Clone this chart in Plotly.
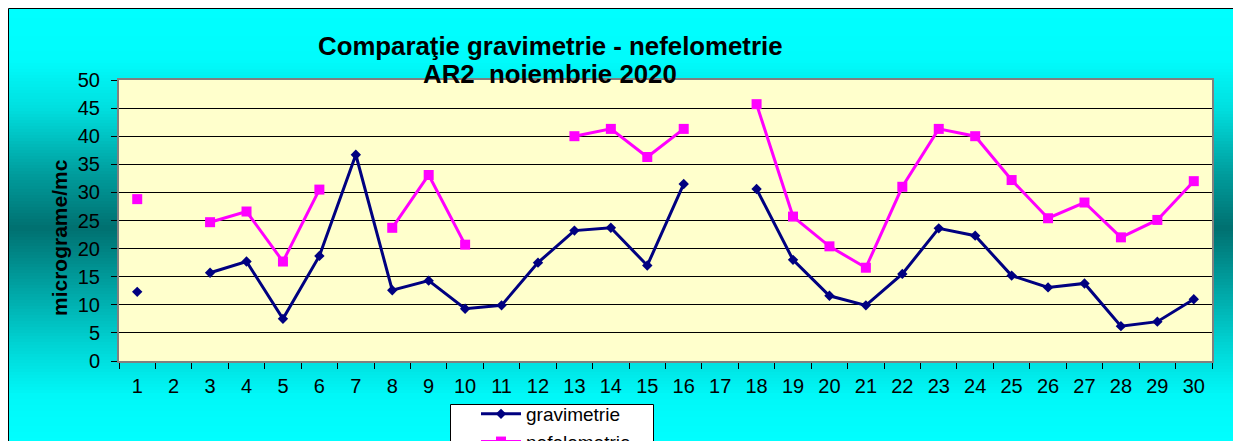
import plotly.graph_objects as go

# ---- data ----
days = [str(d) for d in range(1, 31)]
gravimetrie = [12.3, None, 15.7, 17.7, 7.5, 18.7, 36.7, 12.6, 14.3, 9.3,
               9.9, 17.5, 23.2, 23.7, 17.0, 31.5, None, 30.6, 18.0, 11.6,
               9.9, 15.5, 23.6, 22.3, 15.2, 13.1, 13.8, 6.2, 7.0, 11.0]
nefelometrie = [28.8, None, 24.7, 26.6, 17.7, 30.5, None, 23.7, 33.1, 20.7,
                None, None, 40.0, 41.3, 36.3, 41.3, None, 45.7, 25.7, 20.4,
                16.6, 31.0, 41.3, 40.0, 32.2, 25.4, 28.2, 22.0, 25.1, 32.0]
y_ticks = [0, 5, 10, 15, 20, 25, 30, 35, 40, 45, 50]
title_line1 = "Comparaţie gravimetrie - nefelometrie"
title_line2 = "AR2\u00a0 noiembrie 2020"
y_title = "micrograme/mc"

# ---- geometry (screen pixels; page body adds an 8px offset) ----
OFF = 8
W, H = 1241, 441
PL, PT, PW, PH = 119, 80, 1093, 281          # plot area on screen
L = PL - OFF
T = PT - OFF
R = W - L - PW
B = H - T - PH


def sx(p):
    return (p - PL) / PW


def sy(p):
    return (PT + PH - p) / PH


# vertical gradient of the chart area (screen y, green/blue channel)
grad_stops = [(9, 255), (60, 252), (110, 222), (170, 160), (228, 112),
              (290, 165), (345, 212), (395, 248), (441, 255)]


def grad_val(y):
    for (y0, v0), (y1, v1) in zip(grad_stops[:-1], grad_stops[1:]):
        if y0 <= y <= y1:
            return v0 + (v1 - v0) * (y - y0) / (y1 - y0)
    return grad_stops[-1][1]


shapes = []
step = 3
y = 9
while y < H + OFF:
    v = int(round(grad_val(y + step / 2)))
    shapes.append(dict(type="rect", xref="paper", yref="paper",
                       x0=sx(9), x1=sx(W + OFF + 2), y0=sy(y + step + 0.5), y1=sy(y),
                       line=dict(width=0), fillcolor=f"rgb(0,{v},{v})", layer="below"))
    y += step
# chart area border
shapes.append(dict(type="rect", xref="paper", yref="paper",
                   x0=sx(8.5), x1=sx(W + OFF + 5), y0=sy(H + OFF + 5), y1=sy(8.5),
                   line=dict(width=1, color="black"), fillcolor="rgba(0,0,0,0)", layer="below"))
# plot area
shapes.append(dict(type="rect", xref="x domain", yref="y domain", x0=0, x1=1, y0=0, y1=1,
                   line=dict(width=0), fillcolor="#FFFFCC", layer="below"))
# legend box
shapes.append(dict(type="rect", xref="paper", yref="paper",
                   x0=sx(450.5), x1=sx(653.5), y0=sy(H + OFF + 20), y1=sy(404.5),
                   line=dict(width=1, color="black"), fillcolor="white", layer="below"))

fig = go.Figure()
fig.add_trace(go.Scatter(x=days, y=gravimetrie, name="gravimetrie", mode="lines+markers",
                         line=dict(color="#000080", width=3),
                         marker=dict(symbol="diamond", size=8, color="#000080"),
                         connectgaps=False))
fig.add_trace(go.Scatter(x=days, y=nefelometrie, name="nefelometrie", mode="lines+markers",
                         line=dict(color="#FF00FF", width=3),
                         marker=dict(symbol="square", size=10, color="#FF00FF"),
                         connectgaps=False))

font_family = "Liberation Sans, Arial, sans-serif"

annotations = [
    dict(text=f"<b>{title_line1}</b>", xref="paper", yref="paper", x=sx(550), y=sy(46),
         xanchor="center", yanchor="middle", showarrow=False,
         font=dict(family=font_family, size=25.8, color="black")),
    dict(text=f"<b>{title_line2}</b>", xref="paper", yref="paper", x=sx(550), y=sy(74),
         xanchor="center", yanchor="middle", showarrow=False,
         font=dict(family=font_family, size=25.8, color="black")),
    dict(text=f"<b>{y_title}</b>", xref="paper", yref="paper", x=sx(59), y=sy(238),
         xanchor="center", yanchor="middle", showarrow=False, textangle=-90,
         font=dict(family=font_family, size=21, color="black")),
]

fig.update_layout(
    width=W, height=H,
    margin=dict(l=L, r=R, t=T, b=B, autoexpand=False),
    paper_bgcolor="white",
    plot_bgcolor="#FFFFCC",
    font=dict(family=font_family, size=20, color="black"),
    shapes=shapes,
    annotations=annotations,
    showlegend=True,
    legend=dict(x=sx(476), y=sy(395), xanchor="left", yanchor="top",
                bgcolor="rgba(0,0,0,0)", borderwidth=0,
                font=dict(family=font_family, size=19, color="black"),
                itemwidth=40),
    xaxis=dict(type="category", categoryorder="array", categoryarray=days,
               range=[-0.5, len(days) - 0.5],
               tickson="boundaries", ticks="outside", ticklen=6, tickcolor="black",
               ticklabelstandoff=6,
               showgrid=False, showline=True, linecolor="#808080", linewidth=2, mirror=True,
               tickfont=dict(size=20), automargin=False, fixedrange=True),
    yaxis=dict(range=[0, 50], tickvals=y_ticks, ticks="outside", ticklen=6, tickcolor="black",
               ticklabelstandoff=7,
               showgrid=True, gridcolor="black", gridwidth=1, zeroline=False,
               showline=True, linecolor="#808080", linewidth=2, mirror=True,
               tickfont=dict(size=20), automargin=False, fixedrange=True),
)

fig.write_html("out.html")
